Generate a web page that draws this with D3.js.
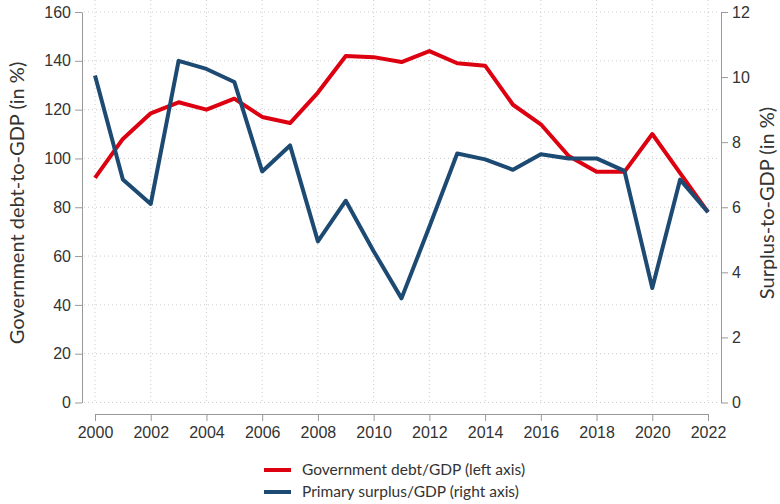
<!DOCTYPE html>
<html>
<head>
<meta charset="utf-8">
<script src="https://cdn.jsdelivr.net/npm/d3@7"></script>
<style>
  body { margin: 0; background: #fff; }
  svg { font-family: Lato, "Open Sans", sans-serif; }
  .axis text { fill: #333; font-size: 16px; }
  .axis path, .axis line { stroke: #999; }
</style>
</head>
<body>
<svg class="chart" width="780" height="504"></svg>
<script>
// chart data
var years = d3.range(2000, 2023);
var debt = [92, 108, 118.5, 123, 120, 124.5, 117, 114.5, 127, 142, 141.5, 139.5, 144, 139, 138, 122, 114, 101, 94.5, 94.5, 110, 94, 78];
var surplus = [10.05, 6.85, 6.1, 10.5, 10.25, 9.85, 7.1, 7.9, 4.95, 6.2, 4.65, 3.2, 5.4, 7.65, 7.47, 7.15, 7.63, 7.5, 7.5, 7.12, 3.52, 6.85, 5.85];
var xTicks = d3.range(2000, 2023, 2);
var leftTicks = [0, 20, 40, 60, 80, 100, 120, 140, 160];
var rightTicks = [0, 2, 4, 6, 8, 10, 12];
var seriesNames = ["Government debt/GDP (left axis)", "Primary surplus/GDP (right axis)"];
var colors = ["#dd0010", "#1d4a72"];

var svg = d3.select(".chart"),
    plotLeft = 82, plotRight = 721, plotTop = 12, plotBottom = 402.5,
    x0 = 95, x1 = 708;

var x = d3.scaleLinear().domain([2000, 2022]).range([x0, x1]);
var yL = d3.scaleLinear().domain([0, 160]).range([plotBottom, plotTop]);
var yR = d3.scaleLinear().domain([0, 12]).range([plotBottom, plotTop]);

// grid
var grid = svg.append("g").attr("class", "grid");
grid.selectAll(".hg")
    .data(leftTicks)
  .enter().append("line")
    .attr("x1", plotLeft + 2).attr("x2", plotRight - 2)
    .attr("y1", function(d) { return yL(d); })
    .attr("y2", function(d) { return yL(d); })
    .attr("stroke", "#ccc").attr("stroke-dasharray", "1,3");
grid.selectAll(".vg")
    .data(xTicks)
  .enter().append("line")
    .attr("x1", function(d) { return x(d); })
    .attr("x2", function(d) { return x(d); })
    .attr("y1", 0).attr("y2", plotBottom)
    .attr("stroke", "#ccc").attr("stroke-dasharray", "1,3");

// axes
svg.append("g")
    .attr("class", "axis")
    .attr("transform", "translate(" + plotLeft + ",0)")
    .call(d3.axisLeft(yL).tickValues(leftTicks).tickSize(7).tickPadding(4).tickSizeOuter(0));

svg.append("g")
    .attr("class", "axis")
    .attr("transform", "translate(" + plotRight + ",0)")
    .call(d3.axisRight(yR).tickValues(rightTicks).tickSize(7).tickPadding(4).tickSizeOuter(0));

svg.append("g")
    .attr("class", "axis")
    .attr("transform", "translate(0,414)")
    .call(d3.axisBottom(x).tickValues(xTicks).tickFormat(d3.format("d")).tickSize(7).tickPadding(6).tickSizeOuter(0));

// axis titles
svg.append("text")
    .attr("transform", "translate(24,203) rotate(-90)")
    .attr("text-anchor", "middle")
    .style("font-size", "20px").attr("fill", "#333")
    .text("Government debt-to-GDP (in %)");

svg.append("text")
    .attr("transform", "translate(774,203) rotate(-90)")
    .attr("text-anchor", "middle")
    .style("font-size", "20px").attr("fill", "#333")
    .text("Surplus-to-GDP (in %)");

// lines
var lineL = d3.line()
    .x(function(d, i) { return x(years[i]); })
    .y(function(d) { return yL(d); });
var lineR = d3.line()
    .x(function(d, i) { return x(years[i]); })
    .y(function(d) { return yR(d); });

svg.append("path")
    .datum(debt)
    .attr("fill", "none")
    .attr("stroke", colors[0])
    .attr("stroke-width", 4)
    .attr("stroke-linejoin", "round")
    .attr("d", lineL);

svg.append("path")
    .datum(surplus)
    .attr("fill", "none")
    .attr("stroke", colors[1])
    .attr("stroke-width", 4)
    .attr("stroke-linejoin", "round")
    .attr("d", lineR);

// legend
var legend = svg.selectAll(".legend")
    .data(seriesNames)
  .enter().append("g")
    .attr("transform", function(d, i) { return "translate(264," + (470 + i * 22) + ")"; });
legend.append("line")
    .attr("x1", 0).attr("x2", 27)
    .attr("stroke", function(d, i) { return colors[i]; })
    .attr("stroke-width", 4);
legend.append("text")
    .attr("x", 38).attr("dy", "0.35em")
    .style("font-size", "15.5px").attr("fill", "#333")
    .text(function(d) { return d; });
</script>
</body>
</html>
